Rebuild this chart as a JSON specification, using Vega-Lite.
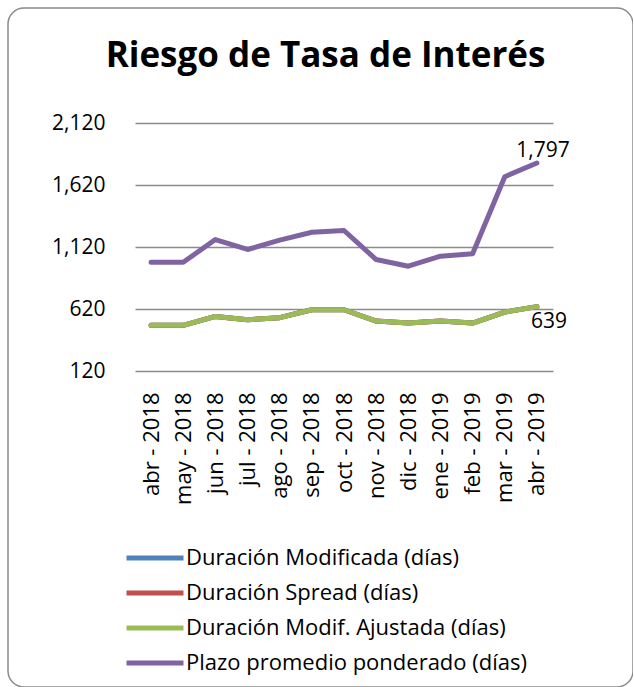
{
  "$schema": "https://vega.github.io/schema/vega-lite/v6.json",
  "autosize": {"type": "none"},
  "padding": {"left": 8, "top": 8, "right": 0, "bottom": 0},
  "width": 625,
  "height": 679,
  "background": "white",
  "config": {
    "view": {"stroke": "#8a8a8a", "strokeWidth": 1.5, "cornerRadius": 16, "fill": "white"},
    "font": "Open Sans"
  },
  "title": {
    "text": "Riesgo de Tasa de Interés",
    "font": "Open Sans",
    "fontSize": 35,
    "fontWeight": "bold",
    "color": "black",
    "anchor": "middle",
    "offset": -94,
    "baseline": "alphabetic",
    "dx": 5
  },
  "data": {
    "values": [
      {"mes": "abr - 2018", "serie": "Duración Modificada (días)", "valor": 488},
      {"mes": "may - 2018", "serie": "Duración Modificada (días)", "valor": 488},
      {"mes": "jun - 2018", "serie": "Duración Modificada (días)", "valor": 560},
      {"mes": "jul - 2018", "serie": "Duración Modificada (días)", "valor": 534},
      {"mes": "ago - 2018", "serie": "Duración Modificada (días)", "valor": 550},
      {"mes": "sep - 2018", "serie": "Duración Modificada (días)", "valor": 614},
      {"mes": "oct - 2018", "serie": "Duración Modificada (días)", "valor": 614},
      {"mes": "nov - 2018", "serie": "Duración Modificada (días)", "valor": 523},
      {"mes": "dic - 2018", "serie": "Duración Modificada (días)", "valor": 507},
      {"mes": "ene - 2019", "serie": "Duración Modificada (días)", "valor": 523},
      {"mes": "feb - 2019", "serie": "Duración Modificada (días)", "valor": 507},
      {"mes": "mar - 2019", "serie": "Duración Modificada (días)", "valor": 595},
      {"mes": "abr - 2019", "serie": "Duración Modificada (días)", "valor": 639},
      {"mes": "abr - 2018", "serie": "Duración Spread (días)", "valor": 488},
      {"mes": "may - 2018", "serie": "Duración Spread (días)", "valor": 488},
      {"mes": "jun - 2018", "serie": "Duración Spread (días)", "valor": 560},
      {"mes": "jul - 2018", "serie": "Duración Spread (días)", "valor": 534},
      {"mes": "ago - 2018", "serie": "Duración Spread (días)", "valor": 550},
      {"mes": "sep - 2018", "serie": "Duración Spread (días)", "valor": 614},
      {"mes": "oct - 2018", "serie": "Duración Spread (días)", "valor": 614},
      {"mes": "nov - 2018", "serie": "Duración Spread (días)", "valor": 523},
      {"mes": "dic - 2018", "serie": "Duración Spread (días)", "valor": 507},
      {"mes": "ene - 2019", "serie": "Duración Spread (días)", "valor": 523},
      {"mes": "feb - 2019", "serie": "Duración Spread (días)", "valor": 507},
      {"mes": "mar - 2019", "serie": "Duración Spread (días)", "valor": 595},
      {"mes": "abr - 2019", "serie": "Duración Spread (días)", "valor": 639},
      {"mes": "abr - 2018", "serie": "Duración Modif. Ajustada (días)", "valor": 488},
      {"mes": "may - 2018", "serie": "Duración Modif. Ajustada (días)", "valor": 488},
      {"mes": "jun - 2018", "serie": "Duración Modif. Ajustada (días)", "valor": 560},
      {"mes": "jul - 2018", "serie": "Duración Modif. Ajustada (días)", "valor": 534},
      {"mes": "ago - 2018", "serie": "Duración Modif. Ajustada (días)", "valor": 550},
      {"mes": "sep - 2018", "serie": "Duración Modif. Ajustada (días)", "valor": 614},
      {"mes": "oct - 2018", "serie": "Duración Modif. Ajustada (días)", "valor": 614},
      {"mes": "nov - 2018", "serie": "Duración Modif. Ajustada (días)", "valor": 523},
      {"mes": "dic - 2018", "serie": "Duración Modif. Ajustada (días)", "valor": 507},
      {"mes": "ene - 2019", "serie": "Duración Modif. Ajustada (días)", "valor": 523},
      {"mes": "feb - 2019", "serie": "Duración Modif. Ajustada (días)", "valor": 507},
      {"mes": "mar - 2019", "serie": "Duración Modif. Ajustada (días)", "valor": 595},
      {"mes": "abr - 2019", "serie": "Duración Modif. Ajustada (días)", "valor": 639},
      {"mes": "abr - 2018", "serie": "Plazo promedio ponderado (días)", "valor": 997},
      {"mes": "may - 2018", "serie": "Plazo promedio ponderado (días)", "valor": 997},
      {"mes": "jun - 2018", "serie": "Plazo promedio ponderado (días)", "valor": 1180},
      {"mes": "jul - 2018", "serie": "Plazo promedio ponderado (días)", "valor": 1100},
      {"mes": "ago - 2018", "serie": "Plazo promedio ponderado (días)", "valor": 1175},
      {"mes": "sep - 2018", "serie": "Plazo promedio ponderado (días)", "valor": 1239},
      {"mes": "oct - 2018", "serie": "Plazo promedio ponderado (días)", "valor": 1253},
      {"mes": "nov - 2018", "serie": "Plazo promedio ponderado (días)", "valor": 1019},
      {"mes": "dic - 2018", "serie": "Plazo promedio ponderado (días)", "valor": 965},
      {"mes": "ene - 2019", "serie": "Plazo promedio ponderado (días)", "valor": 1046},
      {"mes": "feb - 2019", "serie": "Plazo promedio ponderado (días)", "valor": 1065},
      {"mes": "mar - 2019", "serie": "Plazo promedio ponderado (días)", "valor": 1687},
      {"mes": "abr - 2019", "serie": "Plazo promedio ponderado (días)", "valor": 1797}
    ]
  },
  "encoding": {
    "x": {
      "field": "mes",
      "type": "ordinal",
      "sort": ["abr - 2018", "may - 2018", "jun - 2018", "jul - 2018", "ago - 2018", "sep - 2018", "oct - 2018", "nov - 2018", "dic - 2018", "ene - 2019", "feb - 2019", "mar - 2019", "abr - 2019"],
      "scale": {"type": "point", "padding": 0.5, "range": [127, 545]},
      "axis": {
        "title": null,
        "orient": "bottom",
        "offset": -316,
        "domain": false,
        "ticks": false,
        "tickSize": 0,
        "grid": false,
        "labelAngle": -90,
        "labelPadding": 21,
        "labelFontSize": 22,
        "labelFont": "Open Sans",
        "labelColor": "black"
      }
    },
    "y": {
      "field": "valor",
      "type": "quantitative",
      "scale": {"domain": [120, 2120], "range": [363, 115], "nice": false, "zero": false},
      "axis": {
        "title": null,
        "offset": -127,
        "values": [120, 620, 1120, 1620, 2120],
        "format": ",d",
        "domain": false,
        "ticks": false,
        "tickSize": 0,
        "grid": true,
        "gridColor": "#8c8c8c",
        "gridWidth": 1.5,
        "labelPadding": 30,
        "labelFontSize": 21,
        "labelFont": "Open Sans",
        "labelColor": "black"
      }
    }
  },
  "layer": [
    {
      "mark": {"type": "line", "strokeWidth": 5, "strokeCap": "round", "strokeJoin": "round"},
      "encoding": {
        "color": {
          "field": "serie",
          "type": "nominal",
          "sort": ["Duración Modificada (días)", "Duración Spread (días)", "Duración Modif. Ajustada (días)", "Plazo promedio ponderado (días)"],
          "scale": {
            "domain": ["Duración Modificada (días)", "Duración Spread (días)", "Duración Modif. Ajustada (días)", "Plazo promedio ponderado (días)"],
            "range": ["#4F81BD", "#C0504D", "#9BBB59", "#8064A2"]
          },
          "legend": {
            "title": null,
            "orient": "none",
            "legendX": 116,
            "legendY": 540,
            "symbolType": "stroke",
            "symbolSize": 3249,
            "symbolStrokeWidth": 5,
            "clipHeight": 20,
            "rowPadding": 13,
            "labelFontSize": 22,
            "labelFont": "Open Sans",
            "labelOffset": 0,
            "labelColor": "black",
            "labelLimit": 450,
            "padding": 0
          }
        }
      }
    },
    {
      "transform": [{"filter": "datum.serie === 'Plazo promedio ponderado (días)' && datum.mes === 'abr - 2019'"}],
      "mark": {"type": "text", "dx": 6, "dy": -6, "baseline": "alphabetic", "fontSize": 21, "font": "Open Sans", "color": "black"},
      "encoding": {"text": {"field": "valor", "type": "quantitative", "format": ",d"}}
    },
    {
      "transform": [{"filter": "datum.serie === 'Duración Modif. Ajustada (días)' && datum.mes === 'abr - 2019'"}],
      "mark": {"type": "text", "dx": 12, "dy": 21, "baseline": "alphabetic", "fontSize": 21, "font": "Open Sans", "color": "black"},
      "encoding": {"text": {"field": "valor", "type": "quantitative", "format": ",d"}}
    }
  ]
}
